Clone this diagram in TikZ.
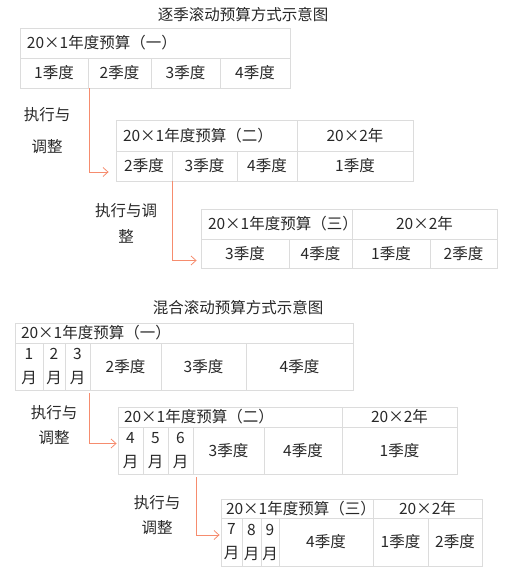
\documentclass[tikz,border=0pt]{standalone}
\usepackage{fontspec}
\usepackage{tikz}
\usetikzlibrary{arrows,arrows.meta}
\newfontfamily\cjk{Noto Sans CJK SC}
\definecolor{gridgray}{RGB}{220,220,220}
\definecolor{txtgray}{RGB}{40,40,40}
\definecolor{flowred}{RGB}{246,140,110}

\newcommand\cell[7][]{%
  \node[cell,minimum width={(#5-#3)*1pt},minimum height={(#6-#4)*1pt},#1]
    (#2) at ({(#3+#5)/2},{(#4+#6)/2}) {#7};}

\begin{document}
\begin{tikzpicture}[x=1pt,y=-1pt,
    every node/.style={font=\cjk\fontsize{15.5}{18}\selectfont,text=txtgray},
    cell/.style={draw=gridgray,line width=0.8pt,inner sep=0pt,align=center},
    head/.style={text width=#1,align=left,inner xsep=7pt},
    month/.style={font=\cjk\fontsize{15.5}{24}\selectfont},
    flow/.style={-{Straight Barb[length=5pt,width=9pt]},draw=flowred,line width=0.8pt},
    note/.style={align=center}]

  \useasboundingbox (0,0) rectangle (526,575);

  \node (title1) at (243,15) {逐季滚动预算方式示意图};
  \cell[head=256pt]{t1a}{20}{28}{290}{58}{20×1年度预算（一）}
  \cell{t1b1}{20}{58}{88}{88}{1季度}
  \cell{t1b2}{88}{58}{151}{88}{2季度}
  \cell{t1b3}{151}{58}{220}{88}{3季度}
  \cell{t1b4}{220}{58}{290}{88}{4季度}

  \node[note,font=\cjk\fontsize{15.5}{32}\selectfont] (do1) at (47,131) {执行与\\调整};

  \cell[head=167pt]{t2a}{116}{120}{297}{151}{20×1年度预算（二）}
  \cell{t2b}{297}{120}{413}{151}{20×2年}
  \cell{t2b1}{116}{151}{172}{181}{2季度}
  \cell{t2b2}{172}{151}{237}{181}{3季度}
  \cell{t2b3}{237}{151}{297}{181}{4季度}
  \cell{t2b4}{297}{151}{413}{181}{1季度}

  \node[note,font=\cjk\fontsize{15.5}{26}\selectfont] (do2) at (126,223) {执行与调\\整};

  \cell[head=137pt]{t3a}{201}{209}{352}{239}{20×1年度预算（三）}
  \cell{t3b}{352}{209}{497}{239}{20×2年}
  \cell{t3b1}{201}{239}{289}{268}{3季度}
  \cell{t3b2}{289}{239}{352}{268}{4季度}
  \cell{t3b3}{352}{239}{430}{268}{1季度}
  \cell{t3b4}{430}{239}{497}{268}{2季度}

  \draw[flow] ([xshift=2pt]t1b2.south west) |- ([xshift=-7pt,yshift=-6pt]t2b1.west);
  \draw[flow] ([xshift=1pt]t2b2.south west) |- ([xshift=-4pt,yshift=-7pt]t3b1.west);

  \node (title2) at (238,308) {混合滚动预算方式示意图};
  \cell[head=326pt,inner xsep=6pt]{t4a}{15}{323}{353}{343}{20×1年度预算（一）}
  \cell[month]{t4m1}{15}{343}{43}{390}{1\\月}
  \cell[month]{t4m2}{43}{343}{65}{390}{2\\月}
  \cell[month]{t4m3}{65}{343}{90}{390}{3\\月}
  \cell{t4b2}{90}{343}{161}{390}{2季度}
  \cell{t4b3}{161}{343}{246}{390}{3季度}
  \cell{t4b4}{246}{343}{353}{390}{4季度}

  \node[note,font=\cjk\fontsize{15.5}{25}\selectfont] (do3) at (54,425) {执行与\\调整};

  \cell[head=212pt,inner xsep=6pt]{t5a}{118}{407}{342}{427}{20×1年度预算（二）}
  \cell{t5b}{342}{407}{457}{427}{20×2年}
  \cell[month]{t5m1}{118}{427}{143}{474}{4\\月}
  \cell[month]{t5m2}{143}{427}{168}{474}{5\\月}
  \cell[month]{t5m3}{168}{427}{193}{474}{6\\月}
  \cell{t5b3}{193}{427}{264}{474}{3季度}
  \cell{t5b4}{264}{427}{342}{474}{4季度}
  \cell{t5b5}{342}{427}{457}{474}{1季度}

  \node[note,font=\cjk\fontsize{15.5}{25}\selectfont] (do4) at (157,515) {执行与\\调整};

  \cell[head=142pt,inner xsep=5pt]{t6a}{221}{499}{373}{518}{20×1年度预算（三）}
  \cell{t6b}{373}{499}{482}{518}{20×2年}
  \cell[month]{t6m1}{221}{518}{242}{566}{7\\月}
  \cell[month]{t6m2}{242}{518}{261}{566}{8\\月}
  \cell[month]{t6m3}{261}{518}{279}{566}{9\\月}
  \cell{t6b4}{279}{518}{373}{566}{4季度}
  \cell{t6b5}{373}{518}{428}{566}{1季度}
  \cell{t6b6}{428}{518}{482}{566}{2季度}

  \draw[flow] ([yshift=-3pt]t4b2.south west) |- ([xshift=-1pt,yshift=7pt]t5m1.west);
  \draw[flow] ([xshift=4pt,yshift=-3pt]t5b3.south west) |- ([xshift=-1pt,yshift=7pt]t6m1.west);

\end{tikzpicture}
\end{document}
